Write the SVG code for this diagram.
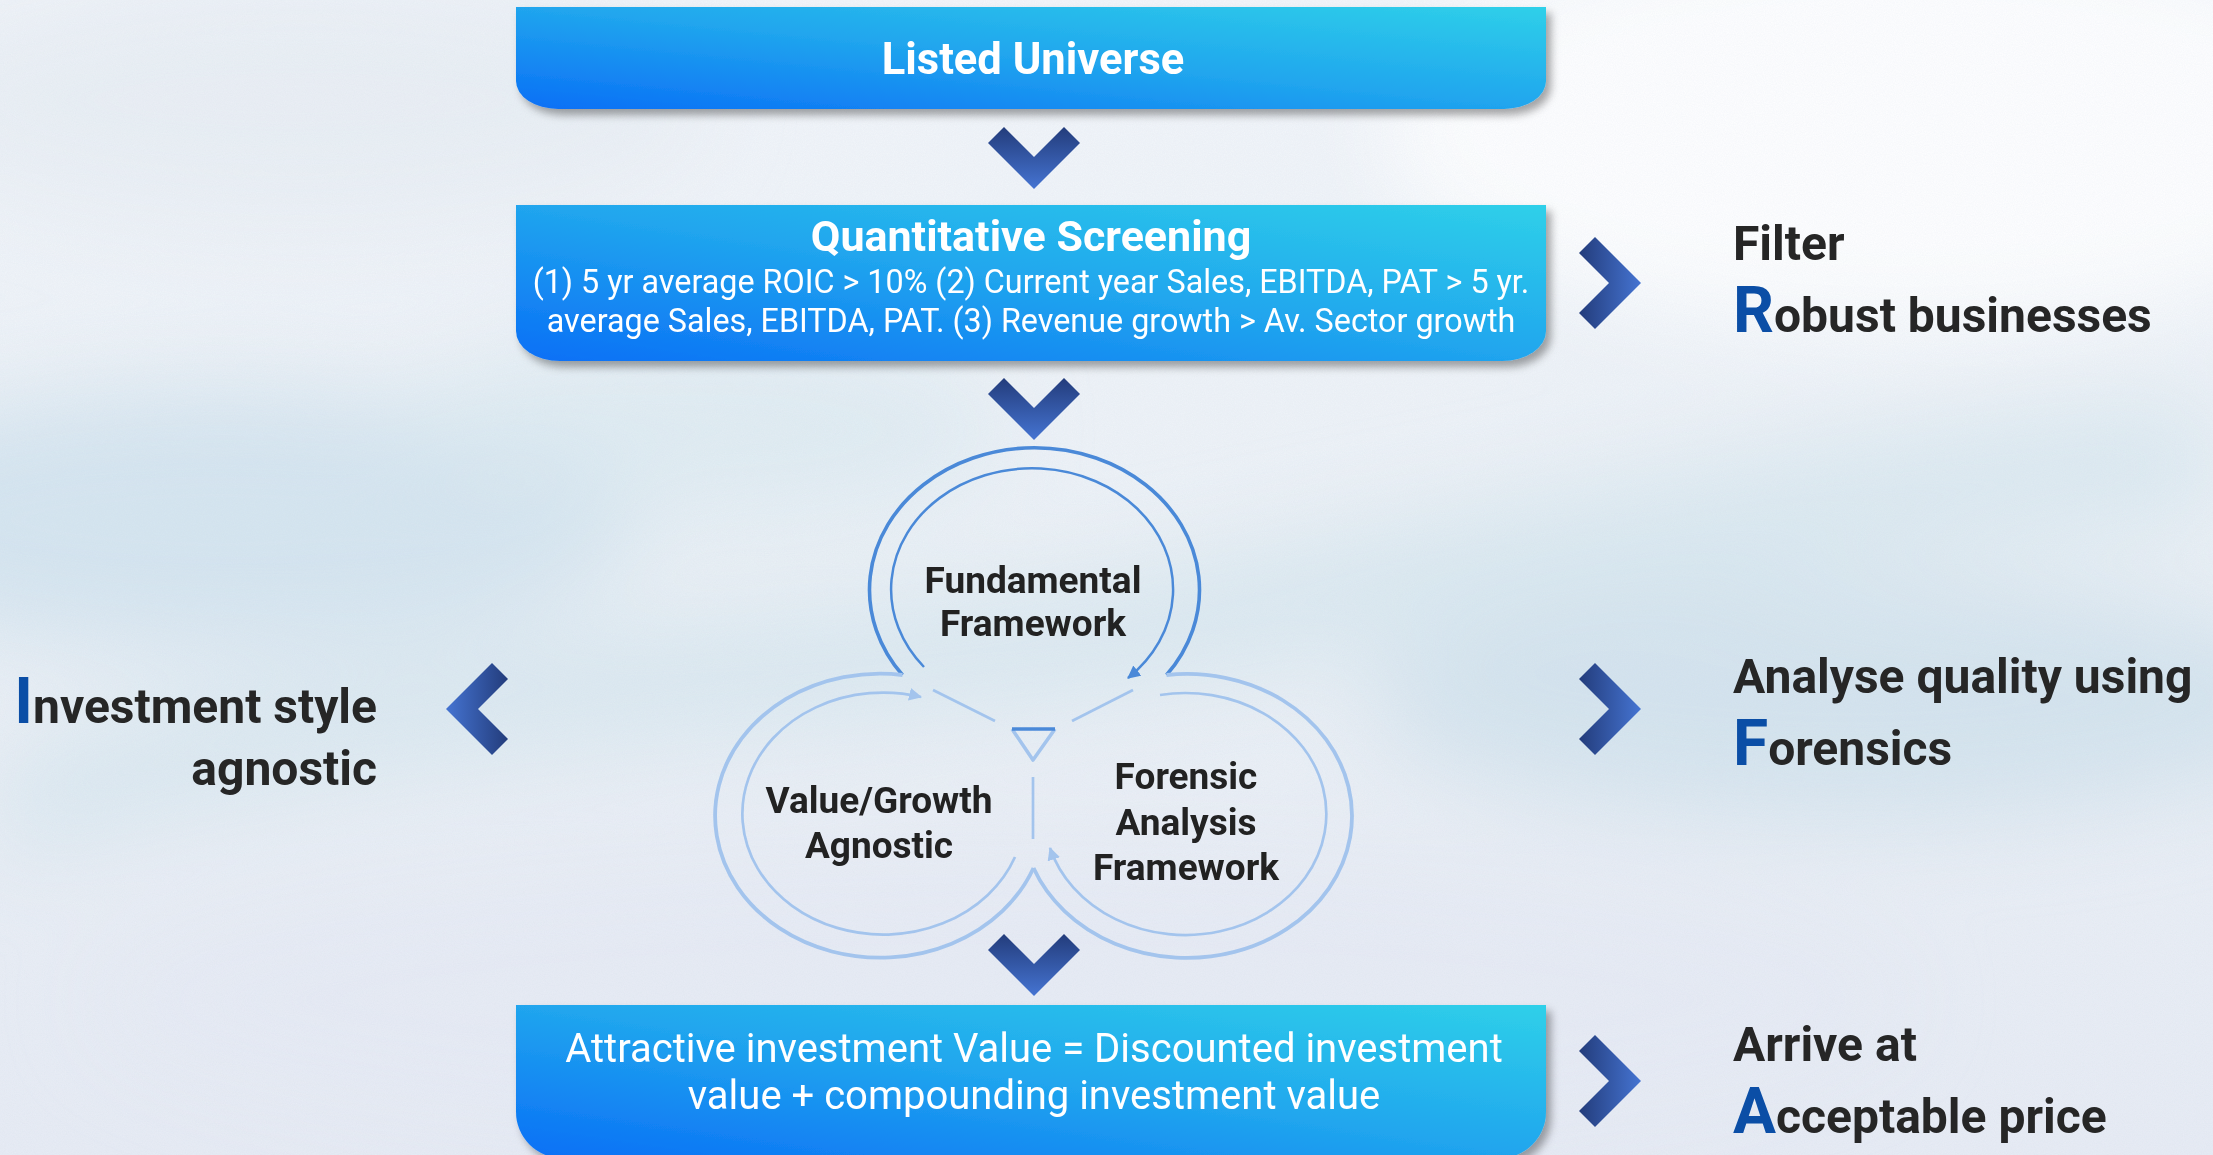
<svg xmlns="http://www.w3.org/2000/svg" width="2213" height="1155" viewBox="0 0 2213 1155">
<defs>
<style>
.box-title{font-family:Roboto,"Liberation Sans",sans-serif;font-weight:700;fill:#ffffff;text-anchor:middle}
.box-body{font-family:Roboto,"Liberation Sans",sans-serif;font-weight:400;fill:#ffffff;text-anchor:middle}
.side{font-family:Roboto,"Liberation Sans",sans-serif;font-weight:700;font-size:48px;fill:#262626}
.init{fill:#0b4ea6;font-size:64px}
.circ{font-family:Roboto,"Liberation Sans",sans-serif;font-weight:700;font-size:37px;fill:#222222;text-anchor:middle}
.ring-top-o{fill:none;stroke:#4a89d8;stroke-width:3.6}
.ring-top-i{fill:none;stroke:#4a89d8;stroke-width:2.5}
.ring-low-o{fill:none;stroke:#a3c4ed;stroke-width:3.8}
.ring-low-i{fill:none;stroke:#a3c4ed;stroke-width:2.7}
.cline{fill:none;stroke:#a3c4ed;stroke-width:2.7}
</style>
<linearGradient id="bg" x1="0" y1="0" x2="0" y2="1">
<stop offset="0" stop-color="#f3f6fa"/>
<stop offset="0.5" stop-color="#edf2f7"/>
<stop offset="1" stop-color="#e8ecf5"/>
</linearGradient>
<linearGradient id="boxg" x1="0" y1="1" x2="1" y2="0">
<stop offset="0" stop-color="#0a6ff6"/>
<stop offset="0.5" stop-color="#20a5ee"/>
<stop offset="1" stop-color="#2fd0e9"/>
</linearGradient>
<linearGradient id="chevD" x1="0" y1="0" x2="0" y2="1">
<stop offset="0" stop-color="#233c7b"/>
<stop offset="1" stop-color="#4574d2"/>
</linearGradient>
<linearGradient id="chevR" x1="0" y1="0" x2="1" y2="0">
<stop offset="0" stop-color="#233c7b"/>
<stop offset="1" stop-color="#4574d2"/>
</linearGradient>
<linearGradient id="chevL" x1="0" y1="0" x2="1" y2="0">
<stop offset="0" stop-color="#4574d2"/>
<stop offset="1" stop-color="#233c7b"/>
</linearGradient>
<filter id="shadow" x="-5%" y="-20%" width="112%" height="150%">
<feDropShadow dx="5" dy="6" stdDeviation="4" flood-color="#000000" flood-opacity="0.35"/>
</filter>
<filter id="blur" x="-50%" y="-50%" width="200%" height="200%">
<feGaussianBlur stdDeviation="45"/>
</filter>
<filter id="grain" x="0" y="0" width="100%" height="100%">
<feTurbulence type="fractalNoise" baseFrequency="0.9" numOctaves="2" seed="3" result="n"/>
<feColorMatrix in="n" type="matrix" values="0 0 0 0 0.45  0 0 0 0 0.55  0 0 0 0 0.7  0 0 0 0.35 0"/>
</filter>
<marker id="arrD" viewBox="0 0 12 12" refX="11" refY="6" markerWidth="13" markerHeight="13" markerUnits="userSpaceOnUse" orient="auto">
<path d="M0 0 L12 6 L0 12 Z" fill="#4a89d8"/>
</marker>
<marker id="arrL" viewBox="0 0 12 12" refX="11" refY="6" markerWidth="13" markerHeight="13" markerUnits="userSpaceOnUse" orient="auto">
<path d="M0 0 L12 6 L0 12 Z" fill="#a3c4ed"/>
</marker>
</defs>

<g id="background">
<rect x="0" y="0" width="2213" height="1155" fill="url(#bg)"/>
<g filter="url(#blur)">
<ellipse cx="220" cy="520" rx="420" ry="130" fill="#cfe2ee" opacity="0.8"/>
<ellipse cx="700" cy="430" rx="300" ry="90" fill="#dbe9f1" opacity="0.7"/>
<path d="M0 760 C400 600 800 640 1200 560 C1600 480 1900 420 2213 400 L2213 520 C1900 540 1600 620 1200 680 C800 740 400 740 0 860 Z" fill="#d4e5ee" opacity="0.7"/>
<ellipse cx="1850" cy="700" rx="480" ry="120" fill="#cfe1ec" opacity="0.8"/>
<ellipse cx="1900" cy="130" rx="520" ry="200" fill="#ffffff" opacity="0.9"/>
<ellipse cx="300" cy="100" rx="400" ry="120" fill="#e9eef4" opacity="0.8"/>
<ellipse cx="1000" cy="1000" rx="900" ry="140" fill="#e7ebf5" opacity="0.8"/>
</g>
<rect x="0" y="0" width="2213" height="1155" filter="url(#grain)" opacity="0.35"/>
</g>

<g id="connectors">
<polygon points="988,143 1004,127 1034,157 1064,127 1080,143 1034,189" fill="url(#chevD)"/>
<polygon points="988,394 1004,378 1034,408 1064,378 1080,394 1034,440" fill="url(#chevD)"/>
<polygon points="988,950 1004,934 1034,964 1064,934 1080,950 1034,996" fill="url(#chevD)"/>
<polygon points="1595,237 1579,253 1609,283 1579,313 1595,329 1641,283" fill="url(#chevR)"/>
<polygon points="1595,663 1579,679 1609,709 1579,739 1595,755 1641,709" fill="url(#chevR)"/>
<polygon points="1595,1035 1579,1051 1609,1081 1579,1111 1595,1127 1641,1081" fill="url(#chevR)"/>
<polygon points="492,663 508,679 478,709 508,739 492,755 446,709" fill="url(#chevL)"/>
</g>

<g id="listed-universe" filter="url(#shadow)">
<path d="M516 7 H1546 V81 A42 28 0 0 1 1504 109 H558 A42 28 0 0 1 516 81 Z" fill="url(#boxg)"/>
<text class="box-title" x="1033" y="74" font-size="43.5">Listed Universe</text>
</g>

<g id="quantitative-screening" filter="url(#shadow)">
<path d="M516 205 H1546 V331 A44 30 0 0 1 1502 361 H560 A44 30 0 0 1 516 331 Z" fill="url(#boxg)"/>
<text class="box-title" x="1031" y="251" font-size="43">Quantitative Screening</text>
<text class="box-body" x="1031" y="293" font-size="32.3">(1) 5 yr average ROIC &gt; 10% (2) Current year Sales, EBITDA, PAT &gt; 5 yr.</text>
<text class="box-body" x="1031" y="332" font-size="32.3">average Sales, EBITDA, PAT. (3) Revenue growth &gt; Av. Sector growth</text>
</g>

<g id="framework-cycle">
<g id="fundamental-framework">
<path class="ring-top-o" d="M902.5 675 A165 142 0 1 1 1166.5 675"/>
<path class="ring-top-i" d="M924 667 A141 121 0 1 1 1128 678" marker-end="url(#arrD)"/>
<text class="circ" x="1033" y="593">Fundamental</text>
<text class="circ" x="1033" y="636">Framework</text>
</g>
<g id="value-growth-agnostic">
<path class="ring-low-o" d="M902.5 675 A165 142 0 1 0 1033.5 868"/>
<path class="ring-low-i" d="M1015 857 A141 121 0 1 1 921 697" marker-end="url(#arrL)"/>
<text class="circ" x="879" y="813">Value/Growth</text>
<text class="circ" x="879" y="858">Agnostic</text>
</g>
<g id="forensic-analysis-framework">
<path class="ring-low-o" d="M1166.5 675 A165 142 0 1 1 1033.5 868"/>
<path class="ring-low-i" d="M1160 695 A141 121 0 1 1 1050 848" marker-end="url(#arrL)"/>
<text class="circ" x="1186" y="789">Forensic</text>
<text class="circ" x="1186" y="835">Analysis</text>
<text class="circ" x="1186" y="880">Framework</text>
</g>
<g id="center-mark">
<line class="cline" x1="933" y1="690" x2="995" y2="721"/>
<line class="cline" x1="1133" y1="690" x2="1072" y2="721"/>
<path d="M1012 729 L1033 760 L1055 729" fill="none" stroke="#a3c4ed" stroke-width="3.6" stroke-linejoin="round"/>
<line x1="1012" y1="729" x2="1055" y2="729" stroke="#4a89d8" stroke-width="3.6"/>
<line class="cline" x1="1033" y1="777" x2="1033" y2="839"/>
</g>
</g>

<g id="attractive-value" filter="url(#shadow)">
<path d="M516 1005 H1546 V1112 A46 46 0 0 1 1500 1158 H562 A46 46 0 0 1 516 1112 Z" fill="url(#boxg)"/>
<text class="box-body" x="1034" y="1062" font-size="40">Attractive investment Value = Discounted investment</text>
<text class="box-body" x="1034" y="1109" font-size="40">value + compounding investment value</text>
</g>

<g id="label-filter">
<text class="side" x="1733" y="260">Filter</text>
<text class="side" x="1733" y="332"><tspan class="init">R</tspan>obust businesses</text>
</g>
<g id="label-forensics">
<text class="side" x="1733" y="693">Analyse quality using</text>
<text class="side" x="1733" y="765"><tspan class="init">F</tspan>orensics</text>
</g>
<g id="label-price">
<text class="side" x="1733" y="1061">Arrive at</text>
<text class="side" x="1733" y="1133"><tspan class="init">A</tspan>cceptable price</text>
</g>
<g id="label-style">
<text class="side" x="377" y="723" text-anchor="end"><tspan class="init">I</tspan>nvestment style</text>
<text class="side" x="377" y="785" text-anchor="end">agnostic</text>
</g>
</svg>
